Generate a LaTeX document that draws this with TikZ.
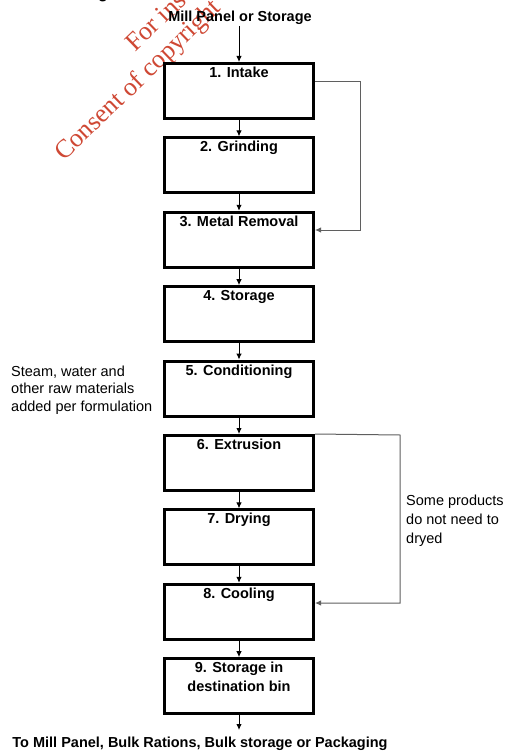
\documentclass[tikz,border=0pt]{standalone}
\usepackage{fontspec}
\setmainfont{Liberation Sans}
\newfontfamily\wmfont{Liberation Serif}
\usetikzlibrary{arrows.meta}
\definecolor{wmred}{RGB}{207,72,52}
\definecolor{linkgray}{RGB}{95,95,95}
\newcommand\stagetext[1]{\parbox[c][49pt][t]{140pt}{\centering\rule{0pt}{11pt}#1}}
\begin{document}
\begin{tikzpicture}[x=1pt,y=-1pt,
  txt/.style={font=\fontsize{14.5pt}{17.5pt}\selectfont, inner sep=0pt},
  boldtxt/.style={font=\fontsize{14.5pt}{17.5pt}\selectfont\bfseries, inner sep=0pt},
  stagebox/.style={draw, line width=3pt, fill=white, inner sep=0pt,
    minimum width=149pt, minimum height=55pt,
    font=\fontsize{14.5pt}{19pt}\selectfont\bfseries},
  flow/.style={line width=1pt, -{Latex[length=6pt,width=5.5pt]}},
  bypass/.style={line width=1pt, draw=linkgray, -{Latex[length=6pt,width=5.5pt]}},
  watermark/.style={font=\wmfont\fontsize{26pt}{26pt}\selectfont, text=wmred,
    rotate=44, anchor=base west, inner sep=0pt}]
\useasboundingbox (0,0) rectangle (504,751);
\fill[white] (0,0) rectangle (504,751);

% watermark and heading remnant, cut off at the top edge
\begin{scope}
  \clip (0,0) rectangle (504,751);
  \node[watermark] (wm1) at (135,53) {For ins};
  \node[watermark] (wm2) at (64,162) {Consent of copyright};
  \node[font=\fontsize{16pt}{16pt}\selectfont\bfseries, anchor=base, inner sep=0pt] (head) at (103,-1) {g};
\end{scope}

% process stages
\foreach \i/\lab in {1/1. Intake, 2/2. Grinding, 3/3. Metal Removal, 4/4. Storage,
    5/5. Conditioning, 6/6. Extrusion, 7/7. Drying, 8/8. Cooling,
    9/{9. Storage in\\destination bin}}
  \node[stagebox] (s\i) at (239,{91+74.4*(\i-1)}) {\stagetext{\lab}};

% source and destination
\node[boldtxt, anchor=base] (src) at (240,22) {Mill Panel or Storage};
\node[boldtxt, anchor=base] (dst) at (200,747) {To Mill Panel, Bulk Rations, Bulk storage or Packaging};

% side notes
\node[txt, anchor=base west] (note1) at (11,376)
  {\parbox[t]{160pt}{\baselineskip=17.5pt Steam, water and\\other raw materials\\added per formulation}};
\node[txt, anchor=base west] (note2) at (406,505)
  {\parbox[t]{100pt}{\baselineskip=19pt Some products\\do not need to\\dryed}};

% main flow
\coordinate (in) at (239,26);
\draw[flow] (in) -- (s1.north);
\foreach \a/\b in {1/2,2/3,3/4,4/5,5/6,6/7,7/8,8/9}
  \draw[flow] (s\a.south) -- (s\b.north);
\coordinate (out) at (239,730);
\draw[flow] (s9.south) -- (out);

% bypass routes
\coordinate (r1) at (360,82);
\coordinate (r2) at (360,230);
\draw[bypass] (s1.east |- r1) -- (r1) -- (r2) -- (s3.east |- r2);
\coordinate (r3) at (400,435);
\coordinate (r4) at (400,603);
\draw[bypass] (s6.north east) -- (r3) -- (r4) -- (s8.east |- r4);
\end{tikzpicture}
\end{document}
